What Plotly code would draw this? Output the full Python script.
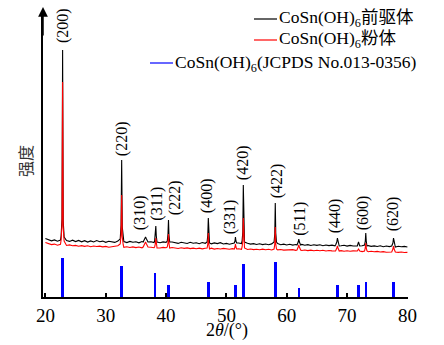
import numpy as np
import plotly.graph_objects as go

# ---------------- data (intensity in a.u.) ----------------
series_names = ["CoSn(OH)<sub>6</sub>前驱体", "CoSn(OH)<sub>6</sub>粉体",
                "CoSn(OH)<sub>6</sub>(JCPDS No.013-0356)"]

bg_two_theta = np.arange(20.0, 80.01, 0.5)  # sampling grid of the background

black_bg = [58.5, 57.0, 56.2, 57.1, 55.8, 56.9, 57.5, 56.4, 55.6, 56.8,
            55.4, 56.6, 55.2, 56.3, 54.9, 56.1, 55.0, 56.4, 55.3, 55.9,
            54.7, 55.8, 55.1, 54.6, 55.9, 56.8, 55.5, 54.4, 55.6, 54.8,
            55.3, 54.2, 55.4, 55.0, 54.1, 55.2, 54.5, 55.6, 54.3, 55.1,
            54.6, 53.9, 55.0, 54.4, 53.6, 54.8, 54.0, 53.5, 54.7, 53.8,
            54.2, 53.3, 54.5, 53.7, 54.4, 53.2, 54.1, 53.4, 54.3, 53.0,
            53.6, 52.8, 53.9, 53.1, 54.0, 53.5, 52.7, 53.8, 52.9, 53.4,
            52.5, 53.3, 52.4, 53.0, 52.2, 53.1, 52.6, 53.5, 52.3, 52.9,
            52.0, 52.8, 51.9, 52.5, 51.7, 52.6, 51.8, 52.4, 51.5, 52.3,
            51.6, 52.2, 51.3, 52.0, 51.4, 51.9, 51.1, 51.8, 51.2, 51.7,
            50.9, 51.6, 51.0, 51.5, 50.7, 51.3, 50.8, 51.4, 50.6, 51.1,
            50.5, 51.2, 50.3, 51.0, 50.4, 50.9, 50.1, 50.8, 50.2, 50.6,
            50.0]

red_bg = [54.5, 53.2, 52.4, 52.9, 51.8, 52.6, 52.3, 51.5, 52.1, 51.2,
          51.6, 50.8, 51.4, 50.6, 51.2, 50.3, 51.0, 50.5, 50.9, 50.1,
          50.6, 49.8, 50.4, 50.9, 51.2, 50.0, 49.6, 50.3, 49.5, 50.1,
          49.4, 50.0, 49.2, 49.8, 49.1, 49.7, 49.3, 50.0, 49.0, 49.6,
          49.2, 48.7, 49.5, 48.9, 48.5, 49.3, 48.6, 49.1, 48.4, 48.9,
          48.3, 48.9, 48.1, 48.7, 48.2, 48.8, 47.9, 48.5, 48.0, 48.6,
          48.2, 47.7, 48.4, 47.9, 48.3, 47.6, 48.1, 47.5, 48.0, 47.4,
          47.8, 47.3, 47.9, 47.2, 47.7, 47.0, 47.6, 47.1, 47.5, 46.9,
          47.2, 46.8, 47.4, 46.6, 47.1, 46.5, 47.0, 46.4, 46.9, 46.3,
          46.7, 46.2, 46.8, 46.0, 46.5, 46.1, 46.6, 45.9, 46.4, 45.8,
          46.2, 45.7, 46.1, 45.5, 46.0, 45.4, 45.9, 45.3, 45.7, 45.2,
          45.6, 45.0, 45.4, 44.8, 45.3, 44.7, 45.1, 44.6, 45.0, 44.5,
          44.6]

black_peaks = [
    [(22.6, 61), (22.75, 78), (22.85, 247), (22.95, 76), (23.1, 60)],
    [(32.4, 58), (32.54, 72), (32.64, 137), (32.74, 70), (32.9, 57)],
    [(36.2, 55), (36.45, 58), (36.6, 60), (36.75, 58), (37.0, 55)],
    [(38.1, 56), (38.22, 62), (38.3, 71), (38.38, 61), (38.5, 55)],
    [(40.2, 56), (40.32, 63), (40.4, 77), (40.48, 62), (40.6, 55)],
    [(46.8, 55), (46.92, 62), (47.0, 79), (47.08, 61), (47.2, 54)],
    [(51.3, 54), (51.42, 56), (51.5, 60), (51.58, 56), (51.7, 54)],
    [(52.6, 56), (52.72, 65), (52.8, 112), (52.88, 64), (53.0, 55)],
    [(57.9, 55), (58.02, 63), (58.1, 94), (58.18, 64), (58.3, 55)],
    [(61.7, 52), (61.9, 55), (62.0, 58), (62.1, 55), (62.3, 52)],
    [(68.1, 52), (68.3, 55), (68.4, 59), (68.5, 55), (68.7, 51)],
    [(71.7, 51), (71.9, 55), (72.1, 51)],
    [(72.9, 52), (73.02, 56), (73.1, 64), (73.18, 56), (73.3, 51)],
    [(77.4, 51), (77.6, 54), (77.7, 59), (77.8, 54), (78.0, 50)],
]

red_peaks = [
    [(22.6, 57), (22.75, 72), (22.85, 215), (22.95, 70), (23.1, 56)],
    [(32.4, 53), (32.54, 62), (32.64, 102), (32.74, 60), (32.9, 52)],
    [(36.2, 50), (36.45, 53), (36.6, 55), (36.75, 53), (37.0, 50)],
    [(38.1, 50), (38.22, 53), (38.3, 59), (38.38, 53), (38.5, 49)],
    [(40.2, 50), (40.32, 54), (40.4, 63), (40.48, 54), (40.6, 49)],
    [(46.8, 49), (46.92, 53), (47.0, 64), (47.08, 53), (47.2, 48)],
    [(51.3, 48), (51.42, 50), (51.5, 53), (51.58, 50), (51.7, 48)],
    [(52.6, 50), (52.72, 56), (52.8, 79), (52.88, 56), (53.0, 49)],
    [(57.9, 48), (58.02, 53), (58.1, 70), (58.18, 53), (58.3, 48)],
    [(61.7, 47), (61.9, 50), (62.0, 52), (62.1, 50), (62.3, 47)],
    [(68.1, 46), (68.3, 49), (68.4, 51), (68.5, 49), (68.7, 46)],
    [(71.7, 46), (71.9, 48), (72.1, 46)],
    [(72.9, 46), (73.02, 49), (73.1, 54), (73.18, 49), (73.3, 46)],
    [(77.4, 45), (77.6, 48), (77.7, 51), (77.8, 48), (78.0, 45)],
]

# JCPDS standard pattern
jcpds_two_theta = [22.85, 32.64, 38.2, 40.4, 47.0, 51.5, 52.8, 58.1, 62.0, 68.4, 71.9, 73.1, 77.7]
jcpds_intensity = [39, 31, 24, 12, 15, 12, 33, 35, 9, 12, 12, 15, 15]

# peak (hkl) labels: text, 2theta of label, intensity at label bottom
hkl_text = ["(200)", "(220)", "(310)", "(311)", "(222)", "(400)", "(331)",
            "(420)", "(422)", "(511)", "(440)", "(600)", "(620)"]
hkl_two_theta = [22.85, 32.64, 35.62, 38.44, 41.43, 46.73, 50.55,
                 52.70, 58.34, 62.15, 67.96, 72.6, 77.58]
hkl_intensity = [252, 139, 65, 74, 80, 82, 61, 115, 97, 59, 62, 65, 64]

x_ticks = [20, 30, 40, 50, 60, 70, 80]

# ---------------- build curves ----------------
def build(bg, peaks):
    windows = [(min(p[0] for p in pk), max(p[0] for p in pk)) for pk in peaks]
    pts = [(x, y) for x, y in zip(bg_two_theta, bg)
           if not any(lo <= x <= hi for lo, hi in windows)]
    for pk in peaks:
        pts.extend(pk)
    pts.sort(key=lambda p: p[0])
    return [p[0] for p in pts], [p[1] for p in pts]

bx, by = build(black_bg, black_peaks)
rx, ry = build(red_bg, red_peaks)

# ---------------- figure ----------------
W, H = 444, 345
ML, MR, MT, MB = 43, 36, 12, 48
PW, PH = W - ML - MR, H - MT - MB

def px_x(px):
    return (px - ML) / PW

def px_y(py):
    return (H - MB - py) / PH

serif = "Liberation Serif"
cjk_serif = "Liberation Serif, Noto Sans CJK SC"

fig = go.Figure()
fig.add_trace(go.Bar(x=jcpds_two_theta, y=jcpds_intensity, width=0.42,
                     marker=dict(color="#0000ff", line=dict(width=0)),
                     showlegend=False))
fig.add_trace(go.Scatter(x=bx, y=by, mode="lines",
                         line=dict(color="#000000", width=1.1), showlegend=False))
fig.add_trace(go.Scatter(x=rx, y=ry, mode="lines",
                         line=dict(color="#ff0000", width=1.1), showlegend=False))

annotations = []
for t, x, y in zip(hkl_text, hkl_two_theta, hkl_intensity):
    annotations.append(dict(x=x, y=y, xref="x", yref="y", text=t, textangle=-90,
                            showarrow=False, xanchor="center", yanchor="bottom",
                            font=dict(family=serif, size=16, color="#000")))

# axis titles
annotations.append(dict(x=px_x(227), y=px_y(330), xref="paper", yref="paper",
                        text="2<i>θ</i>/(°)", showarrow=False,
                        xanchor="center", yanchor="middle",
                        font=dict(family=serif, size=18, color="#000")))
annotations.append(dict(x=px_x(25), y=px_y(161), xref="paper", yref="paper",
                        text="强度", textangle=-90, showarrow=False,
                        xanchor="center", yanchor="middle",
                        font=dict(family="Noto Sans CJK SC", size=16, color="#333")))

# y-axis arrow
annotations.append(dict(x=0, y=px_y(7), xref="paper", yref="paper", ax=0, ay=30,
                        axref="pixel", ayref="pixel", text="", showarrow=True,
                        arrowhead=2, arrowsize=1.3, arrowwidth=1.5, arrowcolor="#000"))

# manual legend
legend_rows = [(series_names[0], "#000000", 254, 277, 19),
               (series_names[1], "#ff0000", 254, 277, 40),
               (series_names[2], "#0000ff", 150, 173, 63)]
shapes = []
for name, col, x0, x1, yc in legend_rows:
    shapes.append(dict(type="line", xref="paper", yref="paper",
                       x0=px_x(x0), x1=px_x(x1), y0=px_y(yc), y1=px_y(yc),
                       line=dict(color=col, width=1.2)))
    annotations.append(dict(x=px_x(x1), y=px_y(yc), xref="paper", yref="paper",
                            text=name, showarrow=False, xanchor="left", yanchor="middle",
                            font=dict(family=cjk_serif, size=17.5, color="#000")))

fig.update_layout(
    width=W, height=H,
    margin=dict(l=ML, r=MR, t=MT, b=MB, pad=0),
    paper_bgcolor="white", plot_bgcolor="white",
    bargap=0,
    annotations=annotations, shapes=shapes,
    xaxis=dict(range=[19.6, 80.1], tickvals=x_ticks, ticks="inside", ticklen=4,
               tickwidth=1.5, tickcolor="#000", showline=True, linecolor="#000",
               linewidth=2, showgrid=False, zeroline=False,
               tickfont=dict(family=serif, size=19, color="#000")),
    yaxis=dict(range=[0, PH], showline=True, linecolor="#000", linewidth=1.5,
               showticklabels=False, ticks="", showgrid=False, zeroline=False),
)

fig.write_html("out.html")
